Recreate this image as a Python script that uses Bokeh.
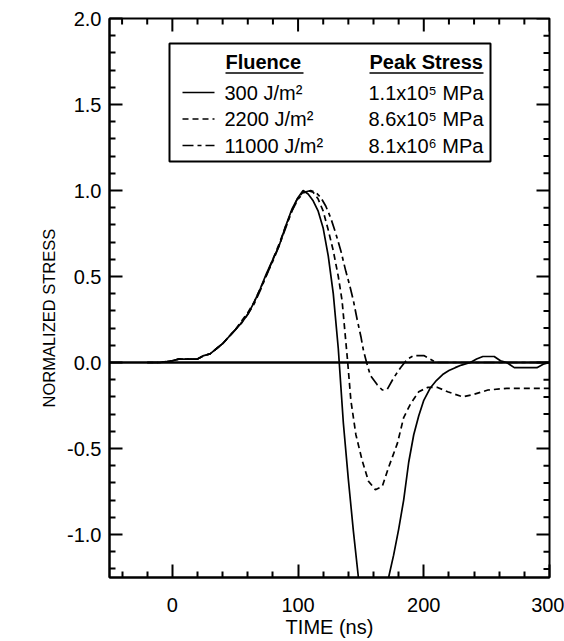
import math
from bokeh.plotting import figure
from bokeh.models import FixedTicker, Range1d, Span, Label, Title, PrintfTickFormatter
from bokeh.embed import file_html
from bokeh.resources import INLINE

# ---------------- data ----------------
time_300 = [-20, -10, 0, 5, 10, 15, 20, 25, 30, 35, 40, 45, 50, 55, 60, 65, 70, 75, 80, 85,
            90, 95, 100, 104, 108, 112, 116, 120, 124, 128, 132, 136, 140, 144, 148, 155, 162, 168, 172, 176,
            180, 184, 188, 192, 196, 200, 205, 210, 215, 220, 225, 230, 237, 242, 247, 256, 261, 266, 272, 278,
            290, 295, 300]
stress_300 = [0.0, 0.0, 0.01, 0.02, 0.02, 0.02, 0.02, 0.04, 0.05, 0.08, 0.11, 0.15, 0.19, 0.23, 0.28, 0.35, 0.43, 0.52, 0.60, 0.68,
              0.79, 0.89, 0.96, 1.0, 0.98, 0.94, 0.88, 0.78, 0.62, 0.40, 0.08, -0.35, -0.68, -0.98, -1.25, -1.5, -1.55, -1.45, -1.25, -1.12,
              -0.97, -0.80, -0.58, -0.42, -0.31, -0.22, -0.15, -0.105, -0.07, -0.047, -0.03, -0.015, 0.0, 0.02, 0.035, 0.035, 0.01, 0.0, -0.03, -0.03,
              -0.03, -0.01, 0.0]

time_2200 = [-20, -10, 0, 5, 10, 15, 20, 25, 30, 35, 40, 45, 50, 55, 60, 65, 70, 75, 80, 85,
             90, 95, 100, 104, 108, 112, 116, 120, 124, 128, 132, 135, 139.5, 142, 146, 151, 156, 161.5, 167, 172,
             179, 184, 189.5, 196, 203, 211, 219, 231, 240, 251, 266, 280, 300]
stress_2200 = [0.0, 0.0, 0.01, 0.02, 0.02, 0.02, 0.02, 0.04, 0.05, 0.08, 0.11, 0.15, 0.19, 0.24, 0.29, 0.35, 0.43, 0.51, 0.60, 0.69,
               0.79, 0.88, 0.96, 0.99, 1.0, 0.99, 0.95, 0.88, 0.77, 0.65, 0.50, 0.36, 0.0, -0.22, -0.42, -0.57, -0.69, -0.74, -0.72, -0.61,
               -0.47, -0.32, -0.24, -0.17, -0.145, -0.145, -0.17, -0.2, -0.185, -0.16, -0.15, -0.15, -0.15]

time_11000 = [-20, -10, 0, 5, 10, 15, 20, 25, 30, 35, 40, 45, 50, 55, 60, 65, 70, 75, 80, 85,
              90, 95, 100, 105, 110, 114, 118, 122, 126, 130, 134, 138, 141, 144, 147, 150, 152, 154.5, 157.5, 163,
              167, 171, 176, 181.5, 187, 192, 200, 205, 210, 230, 260, 300]
stress_11000 = [0.0, 0.0, 0.01, 0.02, 0.02, 0.02, 0.02, 0.04, 0.05, 0.08, 0.11, 0.15, 0.19, 0.23, 0.28, 0.34, 0.42, 0.51, 0.59, 0.68,
                0.78, 0.88, 0.95, 0.99, 1.0, 0.99, 0.96, 0.91, 0.84, 0.75, 0.65, 0.53, 0.45, 0.36, 0.25, 0.15, 0.07, 0.0, -0.075, -0.13,
                -0.16, -0.155, -0.09, -0.03, 0.02, 0.04, 0.04, 0.02, 0.0, 0.0, 0.0, 0.0]

fluence_labels = ["300 J/m\u00b2", "2200 J/m\u00b2", "11000 J/m\u00b2"]
peak_stress_labels = ["1.1x10\u2075 MPa", "8.6x10\u2075 MPa", "8.1x10\u2076 MPa"]
legend_headers = ["Fluence", "Peak Stress"]

x_major_ticks = [0, 100, 200, 300]
x_minor_ticks = [-40, -20, 20, 40, 60, 80, 120, 140, 160, 180, 220, 240, 260, 280]
y_major_ticks = [-1.0, -0.5, 0.0, 0.5, 1.0, 1.5, 2.0]
y_minor_ticks = [-1.2, -1.1, -0.9, -0.8, -0.7, -0.6, -0.4, -0.3, -0.2, -0.1,
                 0.1, 0.2, 0.3, 0.4, 0.6, 0.7, 0.8, 0.9, 1.1, 1.2, 1.3, 1.4, 1.6, 1.7, 1.8, 1.9]

# ---------------- layout ----------------
W, H = 564, 641
FL, FR, FT, FB = 109, 549, 18, 577   # frame edges in pixels
XMIN, XMAX, YMIN, YMAX = -50, 300, -1.25, 2.0
FONT = "Liberation Sans"
MAJ, MIN = 13, 6


def px_x(px):
    return XMIN + (px - FL) * (XMAX - XMIN) / (FR - FL)


def px_y(py):
    return YMAX - (py - FT) * (YMAX - YMIN) / (FB - FT)


p = figure(width=W, height=H, x_range=Range1d(XMIN, XMAX), y_range=Range1d(YMIN, YMAX),
           output_backend="svg", toolbar_location=None,
           min_border_left=FL, min_border_right=W - FR, min_border_top=FT, min_border_bottom=H - FB)
p.grid.visible = False
p.outline_line_color = "black"
p.outline_line_width = 2
p.background_fill_color = "white"
p.border_fill_color = "white"

xticker = FixedTicker(ticks=x_major_ticks, minor_ticks=x_minor_ticks)
yticker = FixedTicker(ticks=y_major_ticks, minor_ticks=y_minor_ticks)

for ax in (p.xaxis[0], p.yaxis[0]):
    ax.axis_line_color = "black"
    ax.axis_line_width = 2
    ax.major_tick_in = MAJ
    ax.major_tick_out = 0
    ax.minor_tick_in = MIN
    ax.minor_tick_out = 0
    ax.major_tick_line_width = 2
    ax.minor_tick_line_width = 2
    ax.major_tick_line_color = "black"
    ax.minor_tick_line_color = "black"
    ax.major_label_text_font = FONT
    ax.major_label_text_font_size = "20px"
    ax.major_label_text_color = "black"

xa = p.xaxis[0]
xa.ticker = xticker
xa.formatter = PrintfTickFormatter(format="%d")
xa.major_label_standoff = 20
xa.axis_label = "TIME (ns)"
xa.axis_label_text_font = FONT
xa.axis_label_text_font_style = "normal"
xa.axis_label_text_font_size = "20px"
xa.axis_label_text_color = "black"
xa.axis_label_standoff = 1

ya = p.yaxis[0]
ya.ticker = yticker
ya.formatter = PrintfTickFormatter(format="%.1f")
ya.major_label_standoff = 8

# y axis title as a side title, starting ~170 px above the frame bottom like the original
p.add_layout(Title(text="NORMALIZED STRESS", align="left", offset=170, standoff=14,
                   text_font=FONT, text_font_size="16.5px", text_font_style="normal",
                   text_color="black"), "left")

# mirrored inward ticks on the top and right edges
p.ray(x=x_major_ticks, y=[YMAX] * len(x_major_ticks), length=MAJ, length_units="screen",
      angle=-math.pi / 2, line_color="black", line_width=2)
p.ray(x=x_minor_ticks, y=[YMAX] * len(x_minor_ticks), length=MIN, length_units="screen",
      angle=-math.pi / 2, line_color="black", line_width=2)
p.ray(x=[XMAX] * len(y_major_ticks), y=y_major_ticks, length=MAJ, length_units="screen",
      angle=math.pi, line_color="black", line_width=2)
p.ray(x=[XMAX] * len(y_minor_ticks), y=y_minor_ticks, length=MIN, length_units="screen",
      angle=math.pi, line_color="black", line_width=2)

# zero line
p.add_layout(Span(location=0, dimension="width", line_color="black", line_width=2.5))

# curves
p.line(time_300, stress_300, line_color="black", line_width=1.7)
p.line(time_2200, stress_2200, line_color="black", line_width=1.7, line_dash="6 4")
p.line(time_11000, stress_11000, line_color="black", line_width=1.7, line_dash="11 4 4 4")

# legend box
p.quad(left=[px_x(169)], right=[px_x(490)], top=[px_y(43)], bottom=[px_y(161)],
       fill_color="white", line_color="black", line_width=2)

head_y = px_y(61)
p.add_layout(Label(x=px_x(225), y=head_y, text=legend_headers[0], text_font=FONT, text_font_size="20px",
                   text_font_style="bold", text_baseline="middle", text_color="black"))
p.add_layout(Label(x=px_x(369), y=head_y, text=legend_headers[1], text_font=FONT, text_font_size="20px",
                   text_font_style="bold", text_baseline="middle", text_color="black"))
p.line([px_x(225), px_x(303)], [px_y(72.5), px_y(72.5)], line_color="black", line_width=1.5)
p.line([px_x(369), px_x(483)], [px_y(72.5), px_y(72.5)], line_color="black", line_width=1.5)

row_px = [92, 118.5, 145]
dashes = ["solid", "6 4", "11 4 4 4"]
for i in range(3):
    ry = px_y(row_px[i])
    p.line([px_x(182), px_x(214)], [ry, ry], line_color="black", line_width=1.7, line_dash=dashes[i])
    p.add_layout(Label(x=px_x(224), y=ry, text=fluence_labels[i], text_font=FONT, text_font_size="20px",
                       text_baseline="middle", text_color="black"))
    p.add_layout(Label(x=px_x(368), y=ry, text=peak_stress_labels[i], text_font=FONT, text_font_size="20px",
                       text_baseline="middle", text_color="black"))

open("out.html", "w").write(file_html(p, INLINE))
